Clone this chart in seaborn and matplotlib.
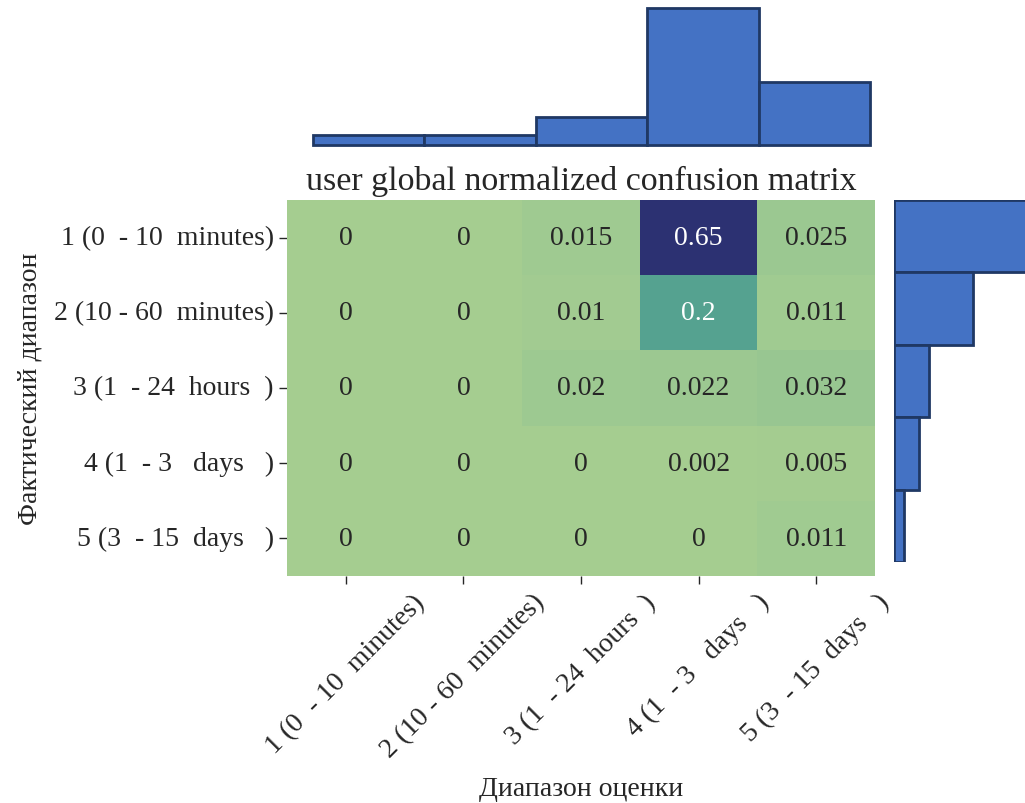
import numpy as np
import pandas as pd
import matplotlib
matplotlib.use("Agg")
import matplotlib.pyplot as plt
import seaborn as sns

sns.set_style("white")
plt.rcParams['font.family'] = ['Liberation Serif', 'DejaVu Serif']

# Class labels (fixed width formatting as in the original)
labels = [
    "1 (0  - 10  minutes)",
    "2 (10 - 60  minutes)",
    "3 (1  - 24  hours  )",
    "4 (1  - 3   days   )",
    "5 (3  - 15  days   )",
]

# Normalized confusion matrix rows (actual) x cols (predicted)
row1 = [0, 0, 0.015, 0.65, 0.025]
row2 = [0, 0, 0.01, 0.2, 0.011]
row3 = [0, 0, 0.02, 0.022, 0.032]
row4 = [0, 0, 0, 0.002, 0.005]
row5 = [0, 0, 0, 0, 0.011]

# Marginal bars (relative heights)
top_counts = [0.073, 0.073, 0.205, 1.0, 0.46]
right_counts = [1.6, 0.79, 0.35, 0.25, 0.097]

cm = pd.DataFrame([row1, row2, row3, row4, row5], index=labels, columns=labels)

W, H = 1025, 804
fig = plt.figure(figsize=(W / 100, H / 100), dpi=100)

def box(x0, y0, x1, y1):
    # pixel box -> figure fraction
    return [x0 / W, 1 - y1 / H, (x1 - x0) / W, (y1 - y0) / H]

ax = fig.add_axes(box(287, 201, 875, 577))
ax_top = fig.add_axes(box(313, 9.3, 870, 145.7))
ax_right = fig.add_axes(box(894, 201, 1025, 563))

sns.heatmap(cm, annot=True, fmt="g", cmap="crest", cbar=False, ax=ax,
            annot_kws={"fontsize": 20})
ax.set_title("user global normalized confusion matrix", fontsize=24.5, pad=8)
ax.set_xlabel("Диапазон оценки", fontsize=20, labelpad=10)
ax.set_ylabel("Фактический диапазон", fontsize=20, labelpad=8)
ax.tick_params(axis="both", labelsize=20, length=6, width=1, bottom=True, left=True)
plt.setp(ax.get_xticklabels(), rotation=45, ha="center")
plt.setp(ax.get_yticklabels(), rotation=0)

bar_face = "#4472C4"
bar_edge = "#1F3864"

ax_top.bar(range(5), top_counts, width=1, color=bar_face, edgecolor=bar_edge,
           linewidth=2, clip_on=False)
ax_top.set_xlim(-0.5, 4.5)
ax_top.set_ylim(0, 1.0)
ax_top.axis("off")

ax_right.barh(range(5), right_counts, height=1, color=bar_face, edgecolor=bar_edge,
              linewidth=2)
ax_right.set_ylim(4.5, -0.5)
ax_right.set_xlim(0, 1.31)
ax_right.axis("off")

fig.savefig("out.png", dpi=100)
